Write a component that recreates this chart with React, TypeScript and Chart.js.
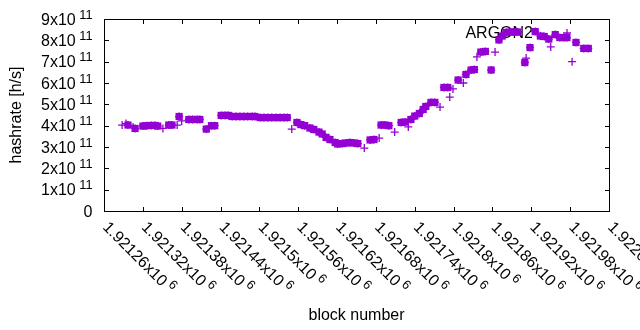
import React, { useEffect, useRef } from "react";
import { Chart, registerables } from "chart.js";

Chart.register(...registerables);

// ---------- data (block number, hashrate in h/s) ----------
// dense runs of measurements (rendered as solid blocks)
const denseBlocks = [
  1921297, 1921308, 1921320, 1921326, 1921333, 1921339, 1921343, 1921360, 1921365,
  1921376, 1921391, 1921397, 1921404, 1921408, 1921418, 1921426, 1921431,
  1921441, 1921447, 1921452, 1921458, 1921464, 1921470, 1921476, 1921482, 1921489, 1921493,
  1921501, 1921507, 1921513, 1921519, 1921526, 1921532, 1921538, 1921543,
  1921558, 1921564, 1921570, 1921578, 1921584, 1921592, 1921597, 1921603, 1921609,
  1921617, 1921621, 1921628, 1921634, 1921640, 1921646, 1921652, 1921671, 1921677,
  1921688, 1921694, 1921700, 1921719, 1921725, 1921734, 1921740, 1921747, 1921753,
  1921757, 1921765, 1921771, 1921785, 1921791, 1921807, 1921819, 1921827, 1921832,
  1921842, 1921849, 1921858, 1921870, 1921875, 1921881, 1921887, 1921893, 1921899,
  1921910, 1921918, 1921926, 1921934, 1921940, 1921947, 1921957, 1921964, 1921971,
  1921975, 1921989, 1922001, 1922008,
];
const denseRates = [
  4.03e11, 3.87e11, 3.98e11, 4.0e11, 4.01e11, 4.01e11, 3.98e11, 4.03e11, 4.03e11,
  4.43e11, 4.29e11, 4.29e11, 4.29e11, 4.29e11, 3.84e11, 4.0e11, 4.0e11,
  4.48e11, 4.48e11, 4.48e11, 4.43e11, 4.43e11, 4.43e11, 4.43e11, 4.43e11, 4.43e11, 4.43e11,
  4.38e11, 4.38e11, 4.38e11, 4.38e11, 4.38e11, 4.38e11, 4.38e11, 4.38e11,
  4.15e11, 4.05e11, 4.0e11, 3.89e11, 3.82e11, 3.7e11, 3.61e11, 3.45e11, 3.35e11,
  3.21e11, 3.14e11, 3.16e11, 3.19e11, 3.21e11, 3.19e11, 3.16e11, 3.33e11, 3.35e11,
  4.03e11, 4.03e11, 4.0e11, 4.15e11, 4.17e11, 4.29e11, 4.45e11, 4.57e11, 4.76e11,
  4.9e11, 5.09e11, 5.09e11, 5.79e11, 5.79e11, 6.14e11, 6.4e11, 6.61e11, 6.63e11,
  7.45e11, 7.48e11, 6.61e11, 8.02e11, 8.2e11, 8.37e11, 8.39e11, 8.39e11, 8.39e11,
  6.96e11, 7.66e11, 8.41e11, 8.2e11, 8.18e11, 8.06e11, 8.27e11, 8.13e11, 8.13e11,
  8.13e11, 7.9e11, 7.62e11, 7.62e11,
];
// isolated measurements
const sparseBlocks = [
  1921288, 1921294, 1921305, 1921351, 1921373, 1921380, 1921550, 1921662, 1921685,
  1921709, 1921730, 1921779, 1921794, 1921799, 1921815, 1921836, 1921864, 1921912,
  1921950, 1921983,
];
const sparseRates = [
  4.03e11, 4.1e11, 3.94e11, 3.87e11, 4.03e11, 4.22e11, 3.84e11, 2.95e11, 3.42e11,
  3.7e11, 3.94e11, 4.87e11, 5.34e11, 5.72e11, 6.0e11, 7.22e11, 7.45e11, 7.17e11,
  7.69e11, 7.0e11,
];

const seriesName = "ARGON2";
const xTickValues = [
  1921260, 1921320, 1921380, 1921440, 1921500, 1921560, 1921620, 1921680, 1921740,
  1921800, 1921860, 1921920, 1921980, 1922040,
];
const xTickLabels = [
  "1.92126x10", "1.92132x10", "1.92138x10", "1.92144x10", "1.9215x10", "1.92156x10",
  "1.92162x10", "1.92168x10", "1.92174x10", "1.9218x10", "1.92186x10", "1.92192x10",
  "1.92198x10", "1.92204x10",
];
const xExponent = "6";
const yTickValues = [0, 1e11, 2e11, 3e11, 4e11, 5e11, 6e11, 7e11, 8e11, 9e11];
const yTickLabels = ["0", "1x10", "2x10", "3x10", "4x10", "5x10", "6x10", "7x10", "8x10", "9x10"];
const yExponent = "11";
const xTitle = "block number";
const yTitle = "hashrate [h/s]";

const PURPLE = "#9400d3";
const FONT = "16px 'Liberation Sans', Arial, sans-serif";
const SUPFONT = "12.8px 'Liberation Sans', Arial, sans-serif";

const gnuFrame = {
  id: "gnuFrame",
  beforeDatasetsDraw(chart: any) {
    const ctx = chart.ctx;
    ctx.save();
    ctx.fillStyle = "#000";
    ctx.font = FONT;
    ctx.textAlign = "right";
    ctx.textBaseline = "alphabetic";
    ctx.fillText(seriesName, 533, 37.5);
    // key sample
    ctx.strokeStyle = PURPLE;
    ctx.lineWidth = 1.3;
    ctx.beginPath();
    ctx.moveTo(563, 33);
    ctx.lineTo(571, 33);
    ctx.moveTo(567, 29);
    ctx.lineTo(567, 37);
    ctx.stroke();
    ctx.restore();
  },
  afterDatasetsDraw(chart: any) {
    const ctx = chart.ctx;
    const a = chart.chartArea;
    const xs = chart.scales.x;
    const ys = chart.scales.y;
    const L = Math.round(a.left) + 0.5;
    const R = Math.round(a.right) + 0.5;
    const T = Math.round(a.top) + 0.5;
    const B = Math.round(a.bottom) + 0.5;
    ctx.save();
    ctx.strokeStyle = "#000";
    ctx.lineWidth = 1;
    ctx.beginPath();
    ctx.rect(L, T, R - L, B - T);
    const tl = 4.5;
    yTickValues.forEach((v) => {
      const y = Math.round(ys.getPixelForValue(v)) + 0.5;
      ctx.moveTo(L, y);
      ctx.lineTo(L + tl, y);
      ctx.moveTo(R, y);
      ctx.lineTo(R - tl, y);
    });
    xTickValues.forEach((v) => {
      const x = Math.round(xs.getPixelForValue(v)) + 0.5;
      ctx.moveTo(x, B);
      ctx.lineTo(x, B - tl);
      ctx.moveTo(x, T);
      ctx.lineTo(x, T + tl);
    });
    ctx.stroke();

    ctx.fillStyle = "#000";
    // y labels
    yTickValues.forEach((v, i) => {
      const y = ys.getPixelForValue(v);
      const rightEdge = 92.5;
      ctx.textBaseline = "alphabetic";
      ctx.textAlign = "left";
      if (v === 0) {
        ctx.font = FONT;
        const w = ctx.measureText(yTickLabels[i]).width;
        ctx.fillText(yTickLabels[i], rightEdge - w, y + 5.5);
        return;
      }
      ctx.font = SUPFONT;
      const sw = ctx.measureText(yExponent).width;
      const sx = rightEdge - sw;
      ctx.fillText(yExponent, sx, y - 0.5);
      ctx.font = FONT;
      const w = ctx.measureText(yTickLabels[i]).width;
      ctx.fillText(yTickLabels[i], sx - 3.5 - w, y + 5.5);
    });
    // x labels, rotated
    xTickValues.forEach((v, i) => {
      const x = xs.getPixelForValue(v);
      ctx.save();
      ctx.translate(x - 2, 228);
      ctx.rotate(Math.PI / 4);
      ctx.textAlign = "left";
      ctx.textBaseline = "alphabetic";
      ctx.font = FONT;
      ctx.fillText(xTickLabels[i], 0, 0);
      const w = ctx.measureText(xTickLabels[i]).width;
      ctx.font = SUPFONT;
      ctx.fillText(xExponent, w + 3.5, -6);
      ctx.restore();
    });
    // titles
    ctx.font = FONT;
    ctx.textAlign = "center";
    ctx.textBaseline = "middle";
    ctx.fillText(xTitle, (a.left + a.right) / 2, 316);
    ctx.save();
    ctx.translate(17, (a.top + a.bottom) / 2);
    ctx.rotate(-Math.PI / 2);
    ctx.fillText(yTitle, 0, 0);
    ctx.restore();
    ctx.restore();
  },
};

export default function App() {
  const ref = useRef<HTMLCanvasElement | null>(null);
  useEffect(() => {
    if (!ref.current) return;
    const dense = denseBlocks.map((b, i) => ({ x: b, y: denseRates[i] }));
    const sparse = sparseBlocks.map((b, i) => ({ x: b, y: sparseRates[i] }));
    const chart = new Chart(ref.current, {
      type: "scatter",
      data: {
        datasets: [
          {
            label: seriesName,
            data: dense,
            pointStyle: "rect",
            pointRadius: 5.1,
            pointHoverRadius: 5.1,
            backgroundColor: PURPLE,
            borderColor: PURPLE,
            borderWidth: 0,
          },
          {
            label: seriesName + " points",
            data: [...dense, ...sparse],
            pointStyle: "cross",
            pointRadius: 4,
            pointHoverRadius: 4,
            backgroundColor: PURPLE,
            borderColor: PURPLE,
            borderWidth: 1.3,
          },
        ],
      },
      options: {
        responsive: false,
        animation: false,
        devicePixelRatio: 1,
        events: [],
        layout: { padding: { left: 104, right: 31, top: 19, bottom: 119 } },
        scales: {
          x: { type: "linear", min: 1921260, max: 1922040, display: false },
          y: { type: "linear", min: 0, max: 9e11, display: false },
        },
        plugins: { legend: { display: false }, tooltip: { enabled: false } },
      } as any,
      plugins: [gnuFrame],
    });
    return () => chart.destroy();
  }, []);
  return (
    <div style={{ position: "absolute", left: 0, top: 0, width: 640, height: 330, background: "#fff" }}>
      <canvas ref={ref} width={640} height={330} style={{ width: 640, height: 330 }} />
    </div>
  );
}
